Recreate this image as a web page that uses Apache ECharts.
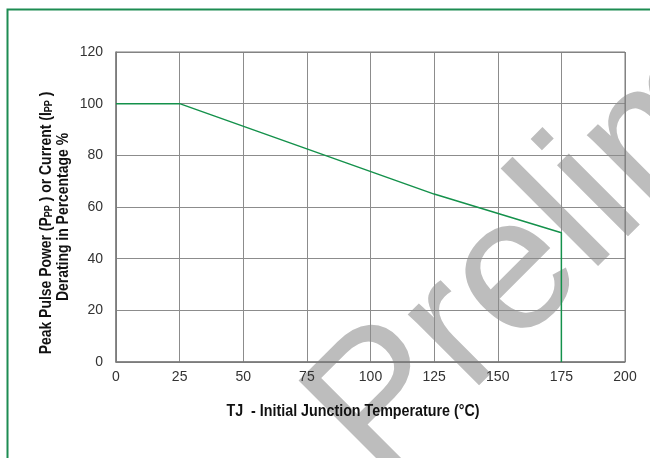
<!DOCTYPE html>
<html>
<head>
<meta charset="utf-8">
<script src="https://cdn.jsdelivr.net/npm/echarts@6/dist/echarts.min.js"></script>
<style>
html,body{margin:0;padding:0;background:#fff;}
#chart{width:650px;height:458px;}
</style>
</head>
<body>
<div id="chart"></div>
<script>
// Data
const tempC = [0, 25, 125, 175, 175];
const deratingPct = [100, 100, 65, 50, 0];
const xMin = 0, xMax = 200, xStep = 25;
const yMin = 0, yMax = 120, yStep = 20;
const xTitle = 'TJ  - Initial Junction Temperature (°C)';
const yTitleLine2 = 'Derating in Percentage %';
const watermark = 'Preliminary';

const FONT = "'Liberation Sans', Arial, sans-serif";
const GREEN = '#14914b';

const chart = echarts.init(document.getElementById('chart'), null, {renderer: 'canvas'});
const seriesData = tempC.map((t, i) => [t, deratingPct[i]]);

chart.setOption({
  animation: false,
  backgroundColor: '#fff',
  grid: {left: 116, right: 25, top: 52, bottom: 96, show: true, borderColor: '#7a7a7a', borderWidth: 1, z: 1},
  xAxis: {
    type: 'value', min: xMin, max: xMax, interval: xStep,
    axisLine: {show: true, lineStyle: {color: '#7a7a7a', width: 1.5}},
    axisTick: {show: false},
    splitLine: {show: true, lineStyle: {color: '#8c8c8c', width: 1}},
    axisLabel: {color: '#333', fontSize: 14, fontFamily: FONT, margin: 8}
  },
  yAxis: {
    type: 'value', min: yMin, max: yMax, interval: yStep,
    axisLine: {show: true, lineStyle: {color: '#7a7a7a', width: 1.5}},
    axisTick: {show: false},
    splitLine: {show: true, lineStyle: {color: '#8c8c8c', width: 1}},
    axisLabel: {color: '#333', fontSize: 14, fontFamily: FONT, margin: 13}
  },
  graphic: [
    {
      type: 'text', z: -10, x: 343, y: 447, rotation: Math.PI / 4, silent: true,
      style: {text: watermark, fill: '#bdbdbd', font: "190px 'Liberation Sans', Arial, sans-serif",
        textAlign: 'left', textVerticalAlign: 'middle'}
    },
    {
      type: 'rect', z: 10, silent: true,
      shape: {x: 7.5, y: 9.5, width: 700, height: 500},
      style: {fill: 'none', stroke: '#1d8c52', lineWidth: 2}
    },
    {
      type: 'text', z: 10, x: 353, y: 411, scaleX: 0.84, silent: true,
      style: {text: xTitle, fill: '#111', font: "bold 17px " + FONT, textAlign: 'center', textVerticalAlign: 'middle'}
    },
    {
      type: 'text', z: 10, x: 45, y: 223, rotation: Math.PI / 2, scaleX: 0.82, silent: true,
      style: {
        text: '{m|Peak Pulse Power (P}{s|PP}{m| ) or Current (I}{s|PP}{m| )}',
        textAlign: 'center', textVerticalAlign: 'middle',
        rich: {
          m: {fill: '#111', font: "bold 17px " + FONT, lineHeight: 19, verticalAlign: 'bottom'},
          s: {fill: '#111', font: "bold 11px " + FONT, lineHeight: 19, verticalAlign: 'bottom'}
        }
      }
    },
    {
      type: 'text', z: 10, x: 63, y: 217, rotation: Math.PI / 2, scaleX: 0.82, silent: true,
      style: {text: yTitleLine2, fill: '#111', font: "bold 17px " + FONT, textAlign: 'center', textVerticalAlign: 'middle'}
    }
  ],
  series: [{
    type: 'line', data: seriesData, showSymbol: false, symbol: 'none', silent: true, z: 5,
    lineStyle: {color: GREEN, width: 1.5}
  }]
});
</script>
</body>
</html>
